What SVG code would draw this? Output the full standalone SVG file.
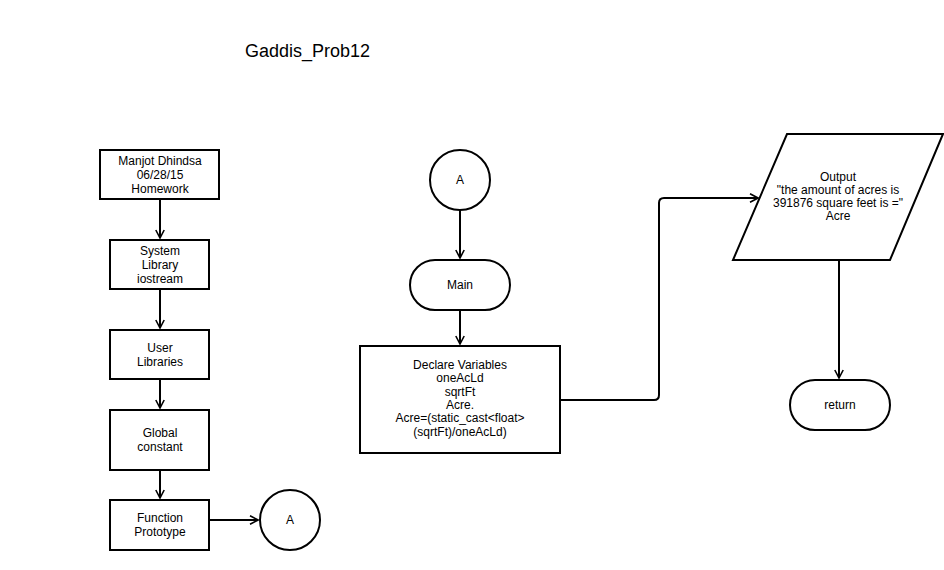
<svg xmlns="http://www.w3.org/2000/svg" width="944" height="570" viewBox="0 0 944 570">
<defs>
<marker id="arr" viewBox="0 0 10 10" refX="9" refY="5" markerWidth="10" markerHeight="10" markerUnits="userSpaceOnUse" orient="auto">
<path d="M1,0.8 L9,5 L1,9.2" fill="none" stroke="#000" stroke-width="1.6"/>
</marker>
<style>
.s{fill:#fff;stroke:#000;stroke-width:2}
.t{font-family:"Liberation Sans",Arial,sans-serif;font-size:12px;fill:#000;text-anchor:middle}
.c{fill:none;stroke:#000;stroke-width:2}
</style>
</defs>
<rect width="944" height="570" fill="#fff"/>
<text x="245" y="57" font-family="Liberation Sans, Arial, sans-serif" font-size="18" fill="#000">Gaddis_Prob12</text>
<g id="connectors">
<path class="c" d="M160,199 V238" marker-end="url(#arr)"/>
<path class="c" d="M160,289 V328" marker-end="url(#arr)"/>
<path class="c" d="M160,379 V408" marker-end="url(#arr)"/>
<path class="c" d="M160,470 V498" marker-end="url(#arr)"/>
<path class="c" d="M210,520 H258" marker-end="url(#arr)"/>
<path class="c" d="M460,210 V258" marker-end="url(#arr)"/>
<path class="c" d="M460,310 V344" marker-end="url(#arr)"/>
<path class="c" d="M561,400 H654 Q659,400 659,395 V203 Q659,198 664,198 H758" marker-end="url(#arr)"/>
<path class="c" d="M839,260 V378" marker-end="url(#arr)"/>
</g>
<g id="n1"><rect class="s" x="100" y="150" width="119" height="49"/>
<text class="t" x="160" y="165">Manjot Dhindsa</text><text class="t" x="160" y="179">06/28/15</text><text class="t" x="160" y="193">Homework</text></g>
<g id="n2"><rect class="s" x="110" y="240" width="99" height="49"/>
<text class="t" x="160" y="255">System</text><text class="t" x="160" y="269">Library</text><text class="t" x="160" y="283">iostream</text></g>
<g id="n3"><rect class="s" x="110" y="330" width="99" height="49"/>
<text class="t" x="160" y="352">User</text><text class="t" x="160" y="366">Libraries</text></g>
<g id="n4"><rect class="s" x="110" y="410" width="99" height="60"/>
<text class="t" x="160" y="437">Global</text><text class="t" x="160" y="451">constant</text></g>
<g id="n5"><rect class="s" x="110" y="500" width="99" height="50"/>
<text class="t" x="160" y="522">Function</text><text class="t" x="160" y="536">Prototype</text></g>
<g id="n6"><circle class="s" cx="290" cy="520" r="30"/><text class="t" x="290" y="524">A</text></g>
<g id="n7"><circle class="s" cx="460" cy="180" r="30"/><text class="t" x="460" y="184">A</text></g>
<g id="n8"><rect class="s" x="410" y="260" width="100" height="50" rx="25"/><text class="t" x="460" y="289">Main</text></g>
<g id="n9"><rect class="s" x="360" y="346" width="200" height="107"/>
<text class="t" x="460" y="369">Declare Variables</text><text class="t" x="460" y="382">oneAcLd</text><text class="t" x="460" y="396">sqrtFt</text><text class="t" x="460" y="409">Acre.</text><text class="t" x="460" y="422">Acre=(static_cast&lt;float&gt;</text><text class="t" x="460" y="436">(sqrtFt)/oneAcLd)</text></g>
<g id="n10"><polygon class="s" points="787,134 943,134 890,260 733,260"/>
<text class="t" x="838" y="181">Output</text><text class="t" x="838" y="194">"the amount of acres is</text><text class="t" x="838" y="207">391876 square feet is ="</text><text class="t" x="838" y="220">Acre</text></g>
<g id="n11"><rect class="s" x="790" y="380" width="100" height="50" rx="25"/><text class="t" x="840" y="409">return</text></g>
</svg>
